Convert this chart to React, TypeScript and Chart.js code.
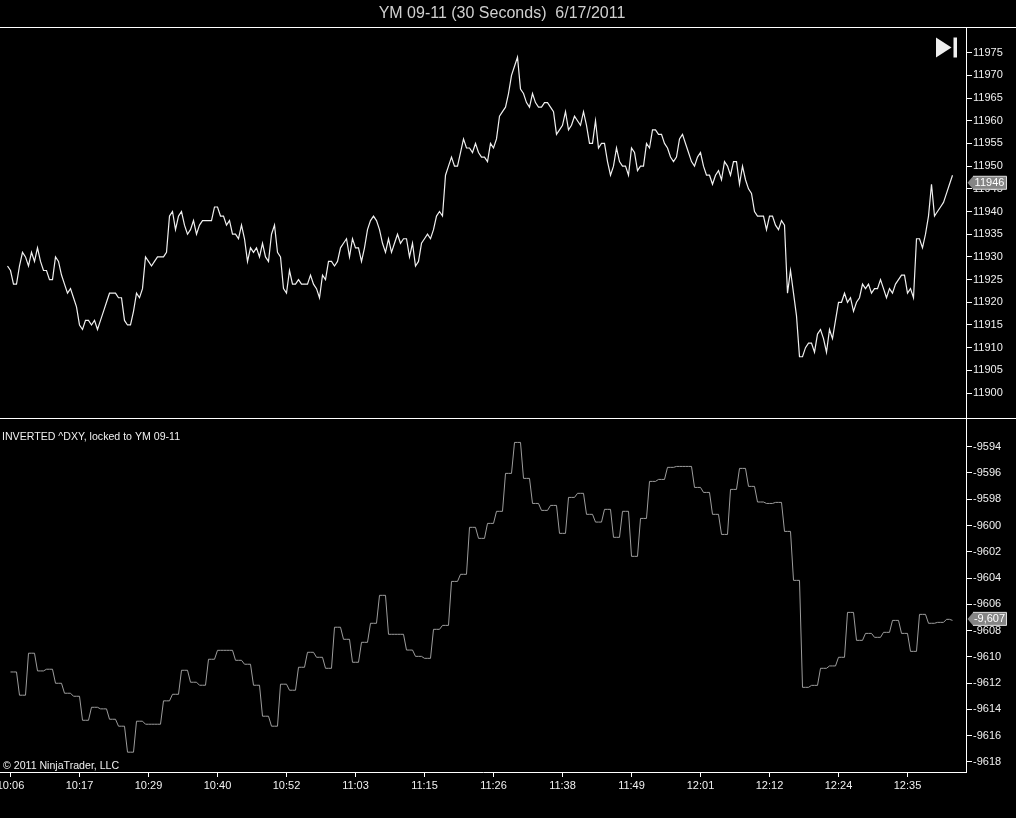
import React, { useEffect, useRef } from "react";
import { Chart, registerables } from "chart.js";

Chart.register(...registerables);

const chartTitle = "YM 09-11 (30 Seconds)  6/17/2011";
const lowerPaneLabel = "INVERTED ^DXY, locked to YM 09-11";
const copyrightLabel = "© 2011 NinjaTrader, LLC";

const xTickLabels = ["10:06", "10:17", "10:29", "10:40", "10:52", "11:03", "11:15", "11:26", "11:38", "11:49", "12:01", "12:12", "12:24", "12:35"];
const barsPerTick = 23;
const firstTickBar = 1;

const ymTicks = [11900, 11905, 11910, 11915, 11920, 11925, 11930, 11935, 11940, 11945, 11950, 11955, 11960, 11965, 11970, 11975];
const dxyTicks = [-9594, -9596, -9598, -9600, -9602, -9604, -9606, -9608, -9610, -9612, -9614, -9616, -9618];

const ymTagValue = 11946;
const ymTagLabel = "11946";
const dxyTagValue = -9607;
const dxyTagLabel = "-9,607";

const ymClose = [
  11928, 11927, 11924, 11924, 11928, 11931, 11930, 11928, 11931, 11929, 11932, 11929, 11927, 11927, 11925, 11925, 11930, 11929, 11926, 11924,
  11922, 11923, 11921, 11919, 11915, 11914, 11916, 11916, 11915, 11916, 11914, 11916, 11918, 11920, 11922, 11922, 11922, 11921, 11921, 11916,
  11915, 11915, 11918, 11922, 11921, 11923, 11930, 11929, 11928, 11929, 11930, 11930, 11930, 11931, 11939, 11940, 11936, 11939, 11940, 11937,
  11935, 11936, 11938, 11935, 11937, 11938, 11938, 11938, 11938, 11941, 11941, 11939, 11939, 11937, 11938, 11935, 11935, 11934, 11937, 11934,
  11929, 11932, 11931, 11932, 11930, 11933, 11930, 11929, 11935, 11937, 11931, 11930, 11923, 11922, 11927, 11924, 11924, 11925, 11924, 11924,
  11924, 11926, 11924, 11923, 11921, 11926, 11925, 11929, 11929, 11928, 11929, 11932,
  11933, 11934, 11930, 11934, 11932, 11932, 11929, 11932, 11936, 11938, 11939, 11938, 11936, 11933, 11931, 11934, 11931, 11933, 11935, 11933,
  11934, 11934, 11930, 11933, 11928, 11929, 11933, 11934, 11935, 11934, 11936, 11939, 11940, 11939, 11948, 11950, 11952, 11950, 11950, 11953,
  11956, 11954, 11954, 11953, 11955, 11953, 11952, 11952, 11951, 11955, 11954, 11956, 11961, 11962, 11963, 11966, 11970, 11972, 11974, 11967,
  11966, 11964, 11963, 11966, 11964, 11963, 11963, 11964, 11964, 11963, 11962, 11957, 11958, 11959, 11962, 11958, 11959, 11961, 11960, 11959,
  11962, 11959, 11955, 11955, 11960, 11954, 11955, 11955, 11951, 11948, 11950, 11954, 11951, 11950, 11950, 11948, 11954, 11953, 11949, 11950,
  11950, 11955, 11954, 11958, 11958, 11957, 11957, 11955, 11954, 11952, 11951, 11952, 11956,
  11957, 11955, 11953, 11951, 11950, 11952, 11953, 11950, 11948, 11948, 11946, 11948, 11949, 11947, 11951, 11950, 11948, 11951, 11951, 11946,
  11950, 11947, 11945, 11944, 11940, 11939, 11939, 11939, 11936, 11939, 11939, 11937, 11936, 11938, 11937, 11922, 11927, 11922, 11917, 11908,
  11908, 11910, 11911, 11911, 11909, 11913, 11914, 11912, 11909, 11914, 11912, 11916, 11920, 11920, 11922, 11920, 11921, 11918, 11920, 11921,
  11924, 11923, 11924, 11922, 11923, 11923, 11925, 11923, 11921, 11923, 11922, 11924, 11925, 11926, 11926, 11922, 11923, 11921, 11934, 11934,
  11932, 11935, 11939, 11946, 11939, 11940, 11941, 11942, 11944, 11946, 11948,
];

const dxyClose: (number | null)[] = [
  null,
  -9611.16, -9611.16, -9611.16, -9612.93, -9612.93, -9612.93, -9609.73, -9609.73, -9609.73, -9611.08, -9611.08, -9611.08,
  -9610.95, -9610.95, -9610.95, -9612.02, -9612.02, -9612.02, -9612.78, -9612.78, -9612.78, -9613.01, -9613.01, -9613.01,
  -9614.84, -9614.84, -9614.84, -9613.85, -9613.85, -9613.85, -9613.97, -9613.97, -9613.97, -9614.76, -9614.76, -9614.76,
  -9615.29, -9615.29, -9615.29, -9617.27, -9617.27, -9617.27, -9614.91, -9614.91, -9614.91,
  -9615.14, -9615.14, -9615.14, -9615.14, -9615.14, -9615.14, -9613.36, -9613.36, -9613.36, -9612.86, -9612.86, -9612.86,
  -9611.03, -9611.03, -9611.03, -9611.94, -9611.94, -9611.94, -9612.17, -9612.17, -9612.17, -9610.19, -9610.19, -9610.19,
  -9609.51, -9609.51, -9609.51, -9609.51, -9609.51, -9609.51, -9610.27, -9610.27, -9610.27, -9610.57, -9610.57, -9610.57,
  -9612.17, -9612.17, -9612.17, -9614.53, -9614.53, -9614.53, -9615.29, -9615.29, -9615.29, -9612.09, -9612.09, -9612.09,
  -9612.55, -9612.55, -9612.55, -9610.80, -9610.80, -9610.80, -9609.66, -9609.66, -9609.66, -9610.04, -9610.04, -9610.04,
  -9610.88, -9610.88, -9610.88, -9607.75, -9607.75, -9607.75,
  -9608.67, -9608.67, -9608.67, -9610.42, -9610.42, -9610.42, -9608.90, -9608.90, -9608.90, -9607.45, -9607.45, -9607.45,
  -9605.32, -9605.32, -9605.32, -9608.29, -9608.29, -9608.29, -9608.29, -9608.29, -9608.29, -9609.49, -9609.49, -9609.49,
  -9609.97, -9609.97, -9609.97, -9610.12, -9610.12, -9610.12, -9607.91, -9607.91, -9607.91, -9607.61, -9607.61, -9607.61,
  -9604.26, -9604.26, -9604.26, -9603.72, -9603.72, -9603.72, -9600.14, -9600.14, -9600.14, -9600.98, -9600.98, -9600.98,
  -9599.84, -9599.84, -9599.84, -9598.92, -9598.92, -9598.92, -9596.03, -9596.03, -9596.03, -9593.67, -9593.67, -9593.67,
  -9596.41, -9596.41, -9596.41, -9598.32, -9598.32, -9598.32, -9598.85, -9598.85, -9598.85, -9598.47, -9598.47, -9598.47,
  -9600.60, -9600.60, -9600.60, -9597.86, -9597.86, -9597.86, -9597.55, -9597.55, -9597.55, -9599.15, -9599.15, -9599.15,
  -9599.74, -9599.74, -9599.74, -9598.77, -9598.77, -9598.77, -9600.90, -9600.90, -9600.90, -9598.92, -9598.92, -9598.92,
  -9602.35, -9602.35, -9602.35, -9599.46, -9599.46, -9599.46, -9596.64, -9596.64, -9596.64, -9596.49, -9596.49, -9596.49,
  -9595.57, -9595.57, -9595.57,
  -9595.50, -9595.50, -9595.50, -9595.50, -9595.50, -9595.50, -9597.10, -9597.10, -9597.10, -9597.48, -9597.48, -9597.48,
  -9599.15, -9599.15, -9599.15, -9600.68, -9600.68, -9600.68, -9597.25, -9597.25, -9597.25, -9595.65, -9595.65, -9595.65,
  -9597.02, -9597.02, -9597.02, -9598.21, -9598.21, -9598.21, -9598.32, -9598.32, -9598.32, -9598.24, -9598.24, -9598.24,
  -9600.45, -9600.45, -9600.45, -9604.18, -9604.18, -9604.18, -9612.33, -9612.33, -9612.33, -9612.18, -9612.18, -9612.18,
  -9610.88, -9610.88, -9610.88, -9610.70, -9610.70, -9610.70, -9610.04, -9610.04, -9610.04, -9606.62, -9606.62, -9606.62,
  -9608.75, -9608.75, -9608.75, -9608.22, -9608.22, -9608.22, -9608.52, -9608.52, -9608.52, -9608.14, -9608.14, -9608.14,
  -9607.23, -9607.23, -9607.23, -9608.22, -9608.22, -9608.22, -9609.59, -9609.59, -9609.59, -9606.77, -9606.77, -9606.77,
  -9607.45, -9607.45, -9607.45, -9607.38, -9607.38, -9607.38, -9607.15, -9607.15, -9607.23,
];

const FONT = '"Liberation Sans", Arial, sans-serif';
const WHITE = "#ffffff";

const xTickValues = xTickLabels.map((_, k) => firstTickBar + k * barsPerTick);
const toPoints = (values: (number | null)[]) => values.map((y, x) => ({ x, y }));

function drawTag(ctx: CanvasRenderingContext2D, cy: number, label: string) {
  const tipX = 967.5;
  const bodyX = 973;
  const rightX = 1006.5;
  const half = 6.5;
  ctx.beginPath();
  ctx.moveTo(tipX, cy);
  ctx.lineTo(bodyX, cy - half);
  ctx.lineTo(rightX, cy - half);
  ctx.lineTo(rightX, cy + half);
  ctx.lineTo(bodyX, cy + half);
  ctx.closePath();
  ctx.fillStyle = "#858585";
  ctx.fill();
  ctx.strokeStyle = "#e0e0e0";
  ctx.lineWidth = 1;
  ctx.beginPath();
  ctx.moveTo(bodyX, cy - half);
  ctx.lineTo(rightX, cy - half);
  ctx.lineTo(rightX, cy + half);
  ctx.lineTo(bodyX, cy + half);
  ctx.stroke();
  ctx.fillStyle = WHITE;
  ctx.font = `11px ${FONT}`;
  ctx.textAlign = "center";
  ctx.textBaseline = "middle";
  ctx.fillText(label, 989.5, cy + 0.5);
}

const chromePlugin = {
  id: "chrome",
  afterLayout(chart: any) {
    if (chart.titleBlock) {
      chart.titleBlock.left = 0;
      chart.titleBlock.right = 1004;
    }
  },
  afterDraw(chart: any) {
    const { ctx, width } = chart;
    const yUpper = chart.scales.yUpper;
    const yLower = chart.scales.yLower;
    ctx.save();

    ctx.strokeStyle = WHITE;
    ctx.lineWidth = 1;
    [yUpper.top, yUpper.bottom].forEach((py: number) => {
      const p = Math.round(py) + 0.5;
      ctx.beginPath();
      ctx.moveTo(0, p);
      ctx.lineTo(width, p);
      ctx.stroke();
    });

    // end-of-chart button
    ctx.fillStyle = "#eeeeee";
    ctx.beginPath();
    ctx.moveTo(936, 37.5);
    ctx.lineTo(951.5, 47.5);
    ctx.lineTo(936, 57.5);
    ctx.closePath();
    ctx.fill();
    ctx.fillRect(953.5, 37.5, 3.5, 20);

    ctx.fillStyle = "#f0f0f0";
    ctx.font = `10.6px ${FONT}`;
    ctx.textAlign = "left";
    ctx.textBaseline = "middle";
    ctx.fillText(lowerPaneLabel, 2, 437);
    ctx.fillText(copyrightLabel, 3, 766);

    drawTag(ctx, yUpper.getPixelForValue(ymTagValue) - 1.5, ymTagLabel);
    drawTag(ctx, yLower.getPixelForValue(dxyTagValue) + 1.5, dxyTagLabel);
    ctx.restore();
  },
};

const yAxis = (ticks: number[], min: number, max: number, weight: number) => ({
  type: "linear",
  position: "right",
  stack: "panes",
  stackWeight: weight,
  min,
  max,
  border: { display: true, color: WHITE, width: 1 },
  grid: { drawOnChartArea: false, drawTicks: true, color: WHITE, tickLength: 6, lineWidth: 1 },
  ticks: {
    color: "#f0f0f0",
    font: { family: FONT, size: 11 },
    padding: 1,
    autoSkip: false,
    callback: (v: number) => String(v),
  },
  afterBuildTicks: (scale: any) => {
    scale.ticks = ticks.map((value) => ({ value }));
  },
  afterFit: (scale: any) => {
    scale.width = 50;
    scale.paddingTop = 0;
    scale.paddingBottom = 0;
  },
});

export default function App() {
  const ref = useRef<HTMLCanvasElement>(null);

  useEffect(() => {
    if (!ref.current) return;
    const chart = new Chart(ref.current, {
      type: "line",
      plugins: [chromePlugin],
      data: {
        datasets: [
          {
            label: "YM 09-11",
            data: toPoints(ymClose),
            yAxisID: "yUpper",
            xAxisID: "x",
            borderColor: "#f0f0f0",
            borderWidth: 1.2,
            pointRadius: 0,
            tension: 0,
          },
          {
            label: "INVERTED ^DXY",
            data: toPoints(dxyClose),
            yAxisID: "yLower",
            xAxisID: "x",
            borderColor: "#9c9c9c",
            borderWidth: 1,
            pointRadius: 0,
            tension: 0,
          },
        ],
      },
      options: {
        responsive: false,
        animation: false,
        devicePixelRatio: 1,
        events: [],
        layout: { padding: 0 },
        plugins: {
          legend: { display: false },
          tooltip: { enabled: false },
          title: {
            display: true,
            text: chartTitle,
            color: "#d0d0d0",
            font: { family: FONT, size: 16, weight: "normal", lineHeight: 1.2 },
            padding: { top: 3.5, bottom: 4.3 },
          },
        },
        scales: {
          x: {
            type: "linear",
            position: "bottom",
            min: -2.5,
            max: 319.5,
            border: { display: true, color: WHITE, width: 1 },
            grid: { drawOnChartArea: false, drawTicks: true, color: WHITE, tickLength: 5 },
            ticks: {
              color: "#f0f0f0",
              font: { family: FONT, size: 11 },
              padding: 2,
              maxRotation: 0,
              autoSkip: false,
              callback: (v: number) => xTickLabels[xTickValues.indexOf(v)] ?? "",
            },
            afterBuildTicks: (scale: any) => {
              scale.ticks = xTickValues.map((value) => ({ value }));
            },
            afterFit: (scale: any) => {
              scale.height = 46;
              scale.paddingLeft = 0;
              scale.paddingRight = 0;
            },
          },
          yUpper: yAxis(ymTicks, 11894.5, 11980.66, 391),
          yLower: yAxis(dxyTicks, -9618.78, -9591.81, 354),
        },
      } as any,
    } as any);
    return () => chart.destroy();
  }, []);

  return (
    <div style={{ position: "fixed", left: 0, top: 0, width: 1016, height: 818, background: "#000", overflow: "hidden" }}>
      <canvas ref={ref} width={1016} height={818} style={{ display: "block" }} />
    </div>
  );
}
